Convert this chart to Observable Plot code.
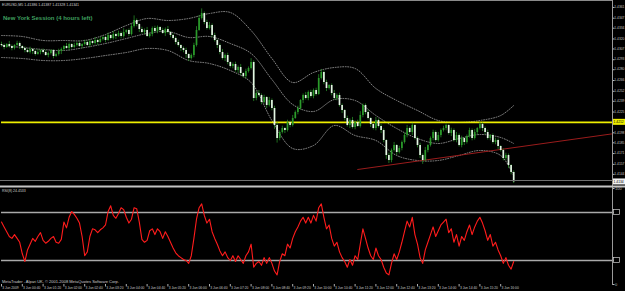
<!DOCTYPE html>
<html><head><meta charset="utf-8">
<script src="https://cdn.jsdelivr.net/npm/d3@7"></script>
<script src="https://cdn.jsdelivr.net/npm/@observablehq/plot@0.6"></script>
<style>
html,body{margin:0;padding:0;background:#000;}
#wrap{position:relative;width:625px;height:291px;background:#000;overflow:hidden;font-family:"Liberation Sans",Arial,sans-serif;}
#wrap > svg, #wrap > figure{position:absolute;left:0;margin:0;display:block;}
</style></head><body><div id="wrap"></div>
<script>
// ---------- texts ----------
const symbolLine = "EURUSD,M5  1.41386 1.41387 1.41328 1.41341";
const sessionNote = "New York Session (4 hours left)";
const rsiLabel = "RSI(8) 24.4533";
const copyright = "MetaTrader - Alpari UK, \u00a9 2001-2008 MetaQuotes Software Corp.";

// ---------- price data (M5 bars) ----------
const firstOpen = 1.43128;
const closes = [
1.43115,1.43089,1.43128,1.43102,1.43076,1.43115,1.43141,1.43102,
1.43076,1.43050,1.43024,1.43063,1.43037,1.42998,1.43024,1.43050,
1.43024,1.42985,1.43011,1.43050,1.42972,1.42998,1.43037,
1.43063,1.43102,1.43076,1.43128,1.43089,1.43115,1.43141,1.43102,
1.43128,1.43154,1.43115,1.43167,1.43141,1.43180,1.43154,1.43193,
1.43219,1.43180,1.43245,1.43206,1.43258,1.43232,
1.43271,1.43232,1.43284,1.43310,1.43258,
1.43362,1.43440,1.43388,1.43323,
1.43284,1.43310,1.43232,1.43258,
1.43336,1.43297,1.43349,1.43310,1.43271,1.43323,1.43284,1.43245,
1.43206,1.43154,1.43115,1.43076,
1.43050,1.42998,1.42946,1.42985,
1.43115,1.43310,1.43466,1.43531,
1.43414,1.43336,1.43375,1.43245,1.43180,1.43115,
1.43024,1.42946,1.42985,1.42894,1.42842,
1.42868,1.42790,1.42829,1.42751,1.42712,1.42777,1.42816,
1.42894,1.42426,1.42491,
1.42465,1.42374,1.42439,1.42335,1.42400,1.42296,
1.42075,1.41906,
1.41984,1.42036,1.42010,1.42114,1.42075,1.42166,
1.42244,1.42296,
1.42400,1.42465,1.42426,1.42504,1.42452,1.42530,1.42478,
1.42686,1.42764,
1.42634,1.42556,1.42595,1.42491,1.42426,1.42465,
1.42335,1.42270,
1.42166,1.42075,1.42140,1.42049,1.42114,1.42062,
1.42205,1.42335,1.42244,1.42166,
1.42088,1.42036,1.42140,1.42062,1.42010,
1.41880,1.41685,1.41620,
1.41750,1.41815,1.41724,1.41776,1.41854,
1.41945,1.42036,1.41984,1.42075,1.41906,1.41815,
1.41685,1.41620,1.41750,1.41815,
1.41906,1.41984,1.41880,1.41945,1.42010,
1.42036,1.42075,1.41971,1.42010,
1.41880,1.41945,1.41815,1.41906,1.41854,
1.41932,1.42010,1.41906,1.41984,1.42036,
1.42088,1.42036,
1.41984,1.41906,1.41945,1.41854,1.41880,1.41802,
1.41750,1.41646,1.41685,
1.41555,1.41464,1.41341
];
// wick lengths beyond the body, in pips
const upperWick = [
3,2,1,4,2,1,3,2,1,2, 2,3,1,2,4,1,2,3,2,1, 1,2,3,2,1,4,2,1,3,2, 2,1,3,2,2,1,4,2,3,1,
2,3,1,4,2,3,2,5,1,2, 3,6,2,1,3,2,4,1,2,3, 2,1,3,2,4,1,2,2,3,1, 2,3,1,2,3,5,4,6,2,3,
4,2,3,1,2,4,2,3,1,2, 3,2,4,1,3,2,5,2,3,4, 2,3,1,4,2,3,4,2,3,1, 3,2,4,2,3,1,2,4,2,3,
2,3,5,4,2,3,1,2,4,2, 3,2,1,3,2,4,2,3,5,2, 2,3,1,2,4,2,3,2,1,3, 2,4,1,3,2,3,4,2,3,1,
2,3,2,4,1,2,3,2,4,2, 3,2,1,3,2,4,2,3,1,2, 3,2,4,1,3,2,2,3,1,2, 3,2,1,2,3,2,1,2
];
const lowerWick = [
2,3,1,2,3,2,1,4,2,3, 1,2,4,2,1,3,2,1,3,2, 3,1,2,4,2,1,3,2,1,2, 1,3,2,1,3,2,2,4,1,2,
3,1,2,2,4,1,3,2,2,3, 2,2,3,4,2,3,1,2,3,2, 3,2,1,4,2,3,2,3,2,4, 3,5,4,2,3,2,1,2,3,2,
2,3,2,4,3,2,4,3,2,3, 2,4,3,2,3,2,2,4,3,2, 3,2,4,2,3,5,6,3,2,4, 2,3,2,1,3,2,4,2,3,2,
3,2,1,2,3,4,2,3,2,3, 2,4,3,2,4,2,3,1,2,3, 3,2,4,2,3,2,4,3,5,4, 3,2,4,2,3,2,3,2,4,2,
3,4,5,2,3,2,3,2,2,3, 2,3,2,4,2,3,2,3,4,2, 2,3,2,3,2,4,3,2,3,2, 3,4,2,3,3,4,3,2
];

// ---------- Bollinger bands (sampled bars) ----------
const bandBars = [0,8,16,24,32,40,48,56,64,72,80,88,96,104,112,120,128,136,144,152,160,168,176,184,192,197];
const bbUpper = [1.43245,1.43232,1.43180,1.43180,1.43180,1.43258,1.43375,1.43466,1.43440,1.43466,1.43531,1.43544,1.43310,1.42946,1.42634,1.42764,1.42829,1.42816,1.42556,1.42400,1.42270,1.42140,1.42114,1.42140,1.42205,1.42335];
const bbMiddle = [1.43115,1.43089,1.43063,1.43050,1.43089,1.43141,1.43206,1.43271,1.43297,1.43219,1.43232,1.43141,1.43011,1.42673,1.42348,1.42257,1.42413,1.42400,1.42205,1.42036,1.41906,1.41841,1.41906,1.41958,1.41919,1.41841];
const bbLower = [1.42959,1.42946,1.42920,1.42920,1.42946,1.42985,1.43024,1.43076,1.43050,1.42920,1.42881,1.42790,1.42634,1.42140,1.41776,1.41815,1.42075,1.41945,1.41880,1.41685,1.41620,1.41620,1.41685,1.41750,1.41685,1.41425];

// ---------- drawn objects ----------
const levelPrice = 1.42116;          // yellow horizontal line
const trendBars = [137, 235];        // red trend line
const trendPrices = [1.41503, 1.41967];
const lastPrice = 1.41341;

// ---------- RSI(8) ----------
const rsi = [
65,60,55,50,48,52,48,44,32,24, 36,42,48,45,50,54,46,43,45,48, 50,44,43,47,65,59,70,76,73,69,
64,50,30,34,50,58,57,54,57,59, 62,76,82,72,69,74,80,78,70,64, 68,80,79,65,47,44,46,56,
58,52,58,55,48,55,50,44,38,33,30,28,
26,25,22,30,48,68,80,84,72,64, 68,55,48,42,35,30,34,28,25,30, 24,30,26,22,30,34,42,18,22,24,
20,28,22,28,22,14,10,24,32,30, 42,38,48,55,60,66,70,64,70,64, 72,66,80,84,70,58,62,48,40,44,
34,28,24,18,26,20,30,26,42,58, 48,38,30,26,38,30,26,18,12,10, 22,32,26,34,44,55,66,60,70,52,
42,28,22,36,44,52,60,50,56,62, 65,68,54,58,44,52,40,50,46,55, 62,52,60,66,70,64,56,46,52,40,
44,36,30,22,28,20,16,24
];
const rsiLevels = [75, 25];
const rsiTicks = [100, 75, 25, 0];

// ---------- axes ----------
const priceTicks = [1.4361,1.4347,1.4334,1.4320,1.4307,1.4293,1.4280,1.4266,1.4252,1.4239,1.4225,1.4212,1.4198,1.4185,1.4171,1.4157,1.4144];
const timeTickBars = [0,8,16,24,32,40,48,56,64,72,80,88,96,104,112,120,128,136,144,152,160,168,176,184,192];
const timeTickLabels = ["3 Jun 2009","3 Jun 00:40","3 Jun 01:20","3 Jun 02:00","3 Jun 02:40","3 Jun 03:20","3 Jun 04:00","3 Jun 04:40","3 Jun 05:20","3 Jun 06:00","3 Jun 06:40","3 Jun 07:20","3 Jun 08:00","3 Jun 08:40","3 Jun 09:20","3 Jun 10:00","3 Jun 10:40","3 Jun 11:20","3 Jun 12:00","3 Jun 12:40","3 Jun 13:20","3 Jun 14:00","3 Jun 14:40","3 Jun 15:20","3 Jun 16:00"];

// ---------- build tables ----------
const candles = closes.map((c, i) => {
  const o = i === 0 ? firstOpen : closes[i - 1];
  return {i, open: o, close: c,
    high: Math.max(o, c) + (upperWick[i] || 0) * 0.0001,
    low: Math.min(o, c) - (lowerWick[i] || 0) * 0.0001};
});
const bands = bandBars.map((b, k) => ({bar: b, upper: bbUpper[k], middle: bbMiddle[k], lower: bbLower[k]}));
const trend = trendBars.map((b, k) => ({bar: b, price: trendPrices[k]}));
const rsiData = rsi.map((v, i) => ({i, v}));

const xDomain = [0, 235];
const green = "#2b9b2b";
const dotted = {stroke: "#a8a8a8", strokeWidth: 0.8, strokeDasharray: "0.9,1.6", curve: "catmull-rom"};
const font = "Liberation Sans, Arial, sans-serif";

const main = Plot.plot({
  width: 625, height: 187,
  marginLeft: 1, marginRight: 13, marginTop: 0, marginBottom: 0,
  style: {background: "#000", color: "#b8b8b8", fontSize: "4px", overflow: "visible", fontFamily: font},
  x: {domain: xDomain, axis: null, label: null},
  y: {domain: [1.41269, 1.43700], axis: "right", ticks: priceTicks, tickFormat: () => "", tickSize: 1.5, label: null},
  marks: [
    Plot.line(bands, {x: "bar", y: "upper", ...dotted}),
    Plot.line(bands, {x: "bar", y: "middle", ...dotted}),
    Plot.line(bands, {x: "bar", y: "lower", ...dotted}),
    Plot.ruleY([levelPrice], {stroke: "#eeee00", strokeWidth: 1.6}),
    Plot.line(trend, {x: "bar", y: "price", stroke: "#9a1c1c", strokeWidth: 1}),
    Plot.ruleX(candles, {x: "i", y1: "low", y2: "high", stroke: green, strokeWidth: 0.7}),
    Plot.ruleX(candles.filter(d => d.close >= d.open), {x: "i", y1: "open", y2: "close", stroke: green, strokeWidth: 1.7}),
    Plot.ruleX(candles.filter(d => d.close < d.open), {x: "i", y1: "open", y2: "close", stroke: "#e4f6e4", strokeWidth: 1.7})
  ]
});

const rsiPlot = Plot.plot({
  width: 625, height: 104,
  marginLeft: 1, marginRight: 13, marginTop: 1, marginBottom: 7,
  style: {background: "transparent", color: "#b8b8b8", fontSize: "4px", overflow: "visible", fontFamily: font},
  x: {domain: xDomain, axis: null, label: null},
  y: {domain: [0, 100], axis: "right", ticks: rsiTicks, tickSize: 1.5, tickPadding: 1, label: null},
  marks: [
    Plot.ruleY(rsiLevels, {stroke: "#a9a9a9", strokeWidth: 1.6}),
    Plot.line(rsiData, {x: "i", y: "v", stroke: "#ff1c1c", strokeWidth: 1.1}),
    Plot.axisX({ticks: timeTickBars, tickSize: 2.5, tickFormat: () => "", stroke: "#b0b0b0", label: null})
  ]
});

const wrap = document.getElementById("wrap");
main.style.top = "0px";
rsiPlot.style.top = "187px";
wrap.appendChild(main);
wrap.appendChild(rsiPlot);

// ---------- frame lines & labels overlay ----------
const ys = main.scale("y");
const ry = rsiPlot.scale("y");
const rx = rsiPlot.scale("x");
const ov = d3.select(wrap).append("svg")
  .attr("width", 625).attr("height", 291)
  .style("position", "absolute").style("top", "0px").style("left", "0px")
  .style("font-family", font);

ov.append("line").attr("x1", 0).attr("x2", 612.5).attr("y1", 0.5).attr("y2", 0.5).attr("stroke", "#8a8a8a");
ov.append("line").attr("x1", 612.5).attr("x2", 612.5).attr("y1", 0).attr("y2", 285).attr("stroke", "#9a9a9a");
ov.append("line").attr("x1", 0).attr("x2", 612.5).attr("y1", 180.5).attr("y2", 180.5).attr("stroke", "#707070");
ov.append("line").attr("x1", 0).attr("x2", 625).attr("y1", 186.5).attr("y2", 186.5).attr("stroke", "#c4c4c4").attr("stroke-width", 2);

// price scale labels (fit into the narrow right margin)
priceTicks.forEach(p => {
  ov.append("text").attr("x", 614.3).attr("y", ys.apply(p) + 1.2).attr("font-size", 3.3).attr("fill", "#c0c0c0")
    .text(p.toFixed(4));
});
function box(yc, fill, txt) {
  ov.append("rect").attr("x", 613).attr("y", yc - 3).attr("width", 12).attr("height", 6).attr("fill", fill);
  ov.append("text").attr("x", 613.6).attr("y", yc + 1.2).attr("font-size", 3.3).attr("fill", "#000").text(txt);
}
box(ys.apply(levelPrice), "#eeee00", levelPrice.toFixed(4));
box(ys.apply(lastPrice), "#f2f2f2", lastPrice.toFixed(4));
// RSI level boxes
rsiLevels.forEach(v => {
  const yc = 187 + ry.apply(v);
  ov.append("rect").attr("x", 613.5).attr("y", yc - 2.5).attr("width", 6).attr("height", 5)
    .attr("fill", "#000").attr("stroke", "#cfcfcf").attr("stroke-width", 0.7);
});

// time labels
timeTickBars.forEach((b, k) => {
  ov.append("text").attr("x", rx.apply(b) + 1.3).attr("y", 289).attr("font-size", 3.3).attr("fill", "#c8c8c8")
    .text(timeTickLabels[k]);
});

ov.append("text").attr("x", 2).attr("y", 6).attr("font-size", 3.6).attr("fill", "#cfcfcf").text(symbolLine);
ov.append("text").attr("x", 3).attr("y", 20).attr("font-size", 6).attr("font-weight", "bold").attr("fill", "#3f9f5f").text(sessionNote);
ov.append("text").attr("x", 2).attr("y", 192).attr("font-size", 3.5).attr("fill", "#cfcfcf").text(rsiLabel);
ov.append("text").attr("x", 2).attr("y", 283).attr("font-size", 4).attr("fill", "#cfcfcf").text(copyright);
</script>
</body></html>
